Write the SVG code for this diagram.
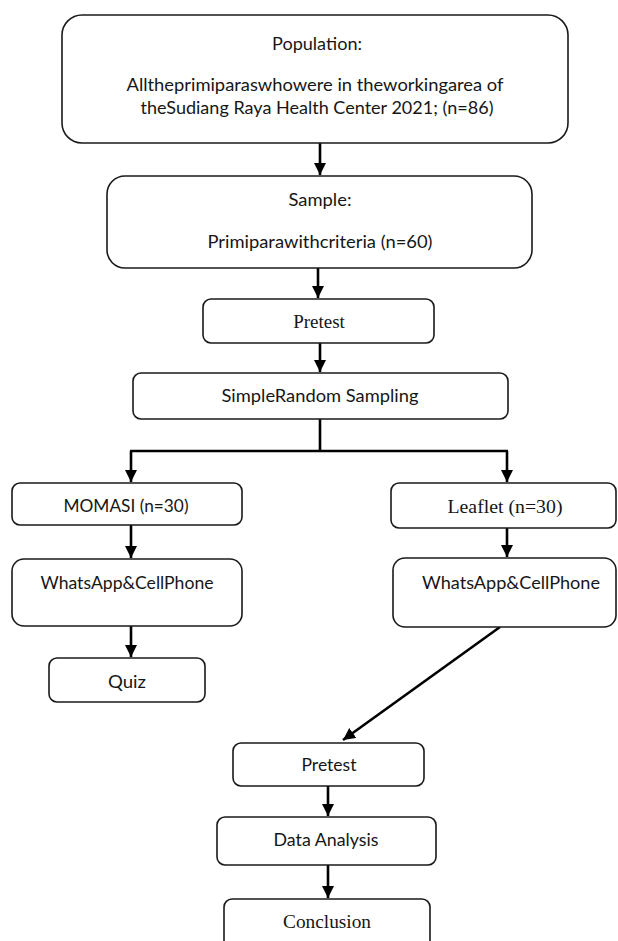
<svg xmlns="http://www.w3.org/2000/svg" width="618" height="941" viewBox="0 0 618 941">
<style>
.box{fill:#fff;stroke:#1a1a1a;stroke-width:1.6}
.s{font-family:Lato,"Liberation Sans",sans-serif;font-size:17px;fill:#161616;text-anchor:middle}
.r{font-family:"Liberation Serif","Times New Roman",serif;font-size:19px;fill:#161616;text-anchor:middle}
.c{fill:none;stroke:#000;stroke-width:2.6}
</style>
<defs>
<marker id="ah" markerUnits="userSpaceOnUse" markerWidth="13" markerHeight="13" refX="12" refY="6" orient="auto">
<path d="M0,0 L12,6 L0,12 z" fill="#000"/>
</marker>
</defs>
<rect width="618" height="941" fill="#fff"/>
<g id="connectors">
<path class="c" d="M320,143 V175" marker-end="url(#ah)"/>
<path class="c" d="M318,268 V298" marker-end="url(#ah)"/>
<path class="c" d="M320,343 V372" marker-end="url(#ah)"/>
<path class="c" d="M320,419 V451"/>
<path class="c" d="M130,451 H508"/>
<path class="c" d="M131,451 V482" marker-end="url(#ah)"/>
<path class="c" d="M507,451 V482" marker-end="url(#ah)"/>
<path class="c" d="M131,525 V558" marker-end="url(#ah)"/>
<path class="c" d="M131,626 V657" marker-end="url(#ah)"/>
<path class="c" d="M507,528 V557" marker-end="url(#ah)"/>
<path class="c" d="M500,627 L343,740" marker-end="url(#ah)"/>
<path class="c" d="M328,786 V816" marker-end="url(#ah)"/>
<path class="c" d="M328,865 V898" marker-end="url(#ah)"/>
</g>
<g id="population">
<rect class="box" x="62" y="15" width="506" height="128" rx="20"/>
<text class="s" x="317" y="50" textLength="90" lengthAdjust="spacingAndGlyphs">Population:</text>
<text class="s" x="315" y="91" textLength="377" lengthAdjust="spacingAndGlyphs">Alltheprimiparaswhowere in theworkingarea of</text>
<text class="s" x="317" y="114" textLength="353" lengthAdjust="spacingAndGlyphs">theSudiang Raya Health Center 2021; (n=86)</text>
</g>
<g id="sample">
<rect class="box" x="107" y="176" width="425" height="92" rx="18"/>
<text class="s" x="320" y="206" textLength="63" lengthAdjust="spacingAndGlyphs">Sample:</text>
<text class="s" x="320" y="248" textLength="225" lengthAdjust="spacingAndGlyphs">Primiparawithcriteria (n=60)</text>
</g>
<g id="pretest1">
<rect class="box" x="203" y="299" width="231" height="44" rx="8"/>
<text class="r" x="319" y="328">Pretest</text>
</g>
<g id="srs">
<rect class="box" x="133" y="373" width="375" height="46" rx="8"/>
<text class="s" x="320" y="402" textLength="197" lengthAdjust="spacingAndGlyphs">SimpleRandom Sampling</text>
</g>
<g id="momasi">
<rect class="box" x="12" y="483" width="230" height="42" rx="8"/>
<text class="s" x="126" y="512" textLength="125" lengthAdjust="spacingAndGlyphs">MOMASI (n=30)</text>
</g>
<g id="wa-left">
<rect class="box" x="12" y="559" width="230" height="67" rx="12"/>
<text class="s" x="127" y="589" textLength="173" lengthAdjust="spacingAndGlyphs">WhatsApp&amp;CellPhone</text>
</g>
<g id="quiz">
<rect class="box" x="49" y="658" width="156" height="44" rx="8"/>
<text class="s" x="127" y="688" textLength="38" lengthAdjust="spacingAndGlyphs">Quiz</text>
</g>
<g id="leaflet">
<rect class="box" x="391" y="483" width="225" height="45" rx="8"/>
<text class="r" x="505" y="513" textLength="115" lengthAdjust="spacingAndGlyphs">Leaflet (n=30)</text>
</g>
<g id="wa-right">
<rect class="box" x="393" y="558" width="223" height="69" rx="12"/>
<text class="s" x="511" y="589" textLength="178" lengthAdjust="spacingAndGlyphs">WhatsApp&amp;CellPhone</text>
</g>
<g id="pretest2">
<rect class="box" x="233" y="743" width="191" height="43" rx="8"/>
<text class="s" x="329" y="771" textLength="55" lengthAdjust="spacingAndGlyphs">Pretest</text>
</g>
<g id="data-analysis">
<rect class="box" x="217" y="817" width="219" height="48" rx="8"/>
<text class="s" x="326" y="846" textLength="105" lengthAdjust="spacingAndGlyphs">Data Analysis</text>
</g>
<g id="conclusion">
<rect class="box" x="224" y="899" width="206" height="60" rx="8"/>
<text class="r" x="327" y="928" textLength="88" lengthAdjust="spacingAndGlyphs">Conclusion</text>
</g>
</svg>
